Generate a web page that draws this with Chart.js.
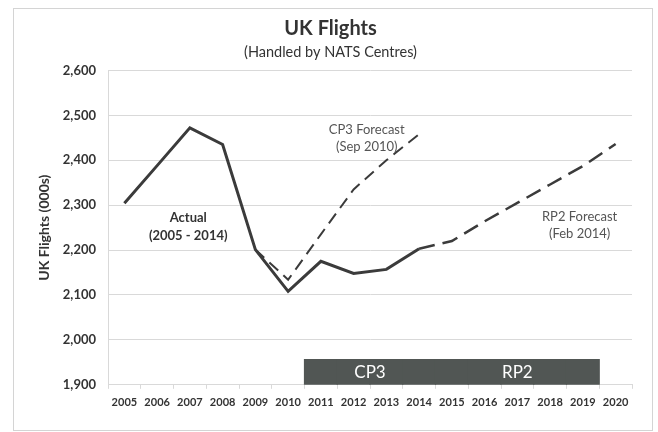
<!DOCTYPE html>
<html>
<head>
<meta charset="utf-8">
<script src="https://cdn.jsdelivr.net/npm/chart.js@4.4.1/dist/chart.umd.min.js"></script>
<style>
  html, body { margin: 0; padding: 0; background: #fff; }
  #wrap { width: 658px; height: 432px; }
</style>
</head>
<body>
<div id="wrap"><canvas id="chart1" width="658" height="432"></canvas></div>
<script>
// years on the x axis
const years = ['2005','2006','2007','2008','2009','2010','2011','2012','2013','2014','2015','2016','2017','2018','2019','2020']

// UK flights (000s)
const actual = [2304, 2388, 2472, 2435, 2201, 2108, 2175, 2148, 2157, 2203, null, null, null, null, null, null]
const cp3Forecast = [null, null, null, null, 2201, 2134, 2235, 2335, 2400, 2458, null, null, null, null, null, null]
const rp2Forecast = [null, null, null, null, null, null, null, null, null, 2203, 2220, 2264, 2305, 2346, 2387, 2436]

// control period band along the bottom (CP3 2011-2014, RP2 2015-2019)
const bandBase = 1900
const bandTop = 1956
const bandYears = ['2011','2012','2013','2014','2015','2016','2017','2018','2019']
const bandLabels = [
  { text: 'CP3', from: '2011', to: '2014' },
  { text: 'RP2', from: '2015', to: '2019' }
]

const yMin = 1900
const yMax = 2600
const yStep = 100

// text notes next to the lines: [category index, value]
const notes = [
  { lines: ['Actual', '(2005 - 2014)'], x: 1.95, y: [2272, 2232], bold: true },
  { lines: ['CP3 Forecast', '(Sep 2010)'], x: 7.4, y: [2467, 2429], bold: false },
  { lines: ['RP2 Forecast', '(Feb 2014)'], x: 13.9, y: [2275, 2236], bold: false }
]

const lineColor = '#3b3b3b'
const bandColor = '#515654'
const gridColor = '#d9d9d9'
const fontName = 'Lato, "Open Sans", sans-serif'

const bandData = years.map(y => bandYears.includes(y) ? [bandBase, bandTop] : null)

const frame = {
  id: 'frame',
  beforeDraw(chart) {
    const c = chart.ctx
    c.save()
    c.fillStyle = '#fff'
    c.fillRect(0, 0, chart.width, chart.height)
    c.strokeStyle = '#d4d4d4'
    c.lineWidth = 1
    c.strokeRect(13.5, 8.5, 639, 422)
    c.restore()
  }
}

const texts = {
  id: 'texts',
  afterDatasetsDraw(chart) {
    const c = chart.ctx
    const xs = chart.scales.x
    const ys = chart.scales.y
    c.save()
    c.textAlign = 'center'
    c.textBaseline = 'middle'

    // band labels
    c.fillStyle = '#fff'
    c.font = '17px ' + fontName
    for (const b of bandLabels) {
      const x = (xs.getPixelForValue(years.indexOf(b.from)) + xs.getPixelForValue(years.indexOf(b.to))) / 2
      c.fillText(b.text, x, ys.getPixelForValue((bandBase + bandTop) / 2))
    }

    for (const n of notes) {
      c.font = (n.bold ? 'bold ' : '') + '13px ' + fontName
      c.fillStyle = n.bold ? '#333' : '#555'
      n.lines.forEach((t, i) => c.fillText(t, xs.getPixelForValue(n.x), ys.getPixelForValue(n.y[i])))
    }
    c.restore()
  }
}

const ctx = document.getElementById('chart1').getContext('2d')

new Chart(ctx, {
  data: {
    labels: years,
    datasets: [{
      type: 'line',
      label: 'Actual',
      data: actual,
      borderColor: lineColor,
      borderWidth: 3,
      pointRadius: 0,
      tension: 0,
      order: 1
    }, {
      type: 'line',
      label: 'CP3 Forecast',
      data: cp3Forecast,
      borderColor: lineColor,
      borderWidth: 2,
      borderDash: [12, 7],
      pointRadius: 0,
      tension: 0,
      order: 2
    }, {
      type: 'line',
      label: 'RP2 Forecast',
      data: rp2Forecast,
      borderColor: lineColor,
      borderWidth: 2.5,
      borderDash: [16, 8],
      pointRadius: 0,
      tension: 0,
      order: 3
    }, {
      type: 'bar',
      label: 'Period',
      data: bandData,
      backgroundColor: bandColor,
      borderWidth: 0,
      inflateAmount: 0.6,
      barPercentage: 1,
      categoryPercentage: 1,
      order: 4
    }]
  },
  options: {
    responsive: false,
    animation: false,
    devicePixelRatio: 1,
    layout: {
      padding: { top: 8, left: 29, right: 26, bottom: 16 }
    },
    plugins: {
      legend: { display: false },
      tooltip: { enabled: false },
      title: {
        display: true,
        text: 'UK Flights',
        color: '#333',
        font: { family: fontName, size: 20, weight: 'bold' },
        padding: { top: 9, bottom: 2 }
      },
      subtitle: {
        display: true,
        text: '(Handled by NATS Centres)',
        color: '#333',
        font: { family: fontName, size: 14.5 },
        padding: { top: 1, bottom: 9 }
      }
    },
    scales: {
      x: {
        offset: true,
        grid: {
          display: true,
          offset: true,
          drawOnChartArea: false,
          drawTicks: true,
          tickLength: 4,
          color: gridColor
        },
        border: { color: gridColor },
        ticks: {
          color: '#333',
          font: { family: fontName, size: 11, weight: 'bold' },
          padding: 7,
          maxRotation: 0,
          autoSkip: false
        }
      },
      y: {
        min: yMin,
        max: yMax,
        afterFit(scale) { scale.width = 79 },
        grid: {
          color: gridColor,
          drawTicks: false
        },
        border: { color: gridColor },
        ticks: {
          stepSize: yStep,
          color: '#333',
          font: { family: fontName, size: 13, weight: 'bold' },
          padding: 12
        },
        title: {
          display: true,
          text: 'UK Flights (000s)',
          color: '#333',
          font: { family: fontName, size: 14, weight: 'bold' },
          padding: { top: 7, bottom: 0 }
        }
      }
    }
  },
  plugins: [frame, texts]
})
</script>
</body>
</html>
